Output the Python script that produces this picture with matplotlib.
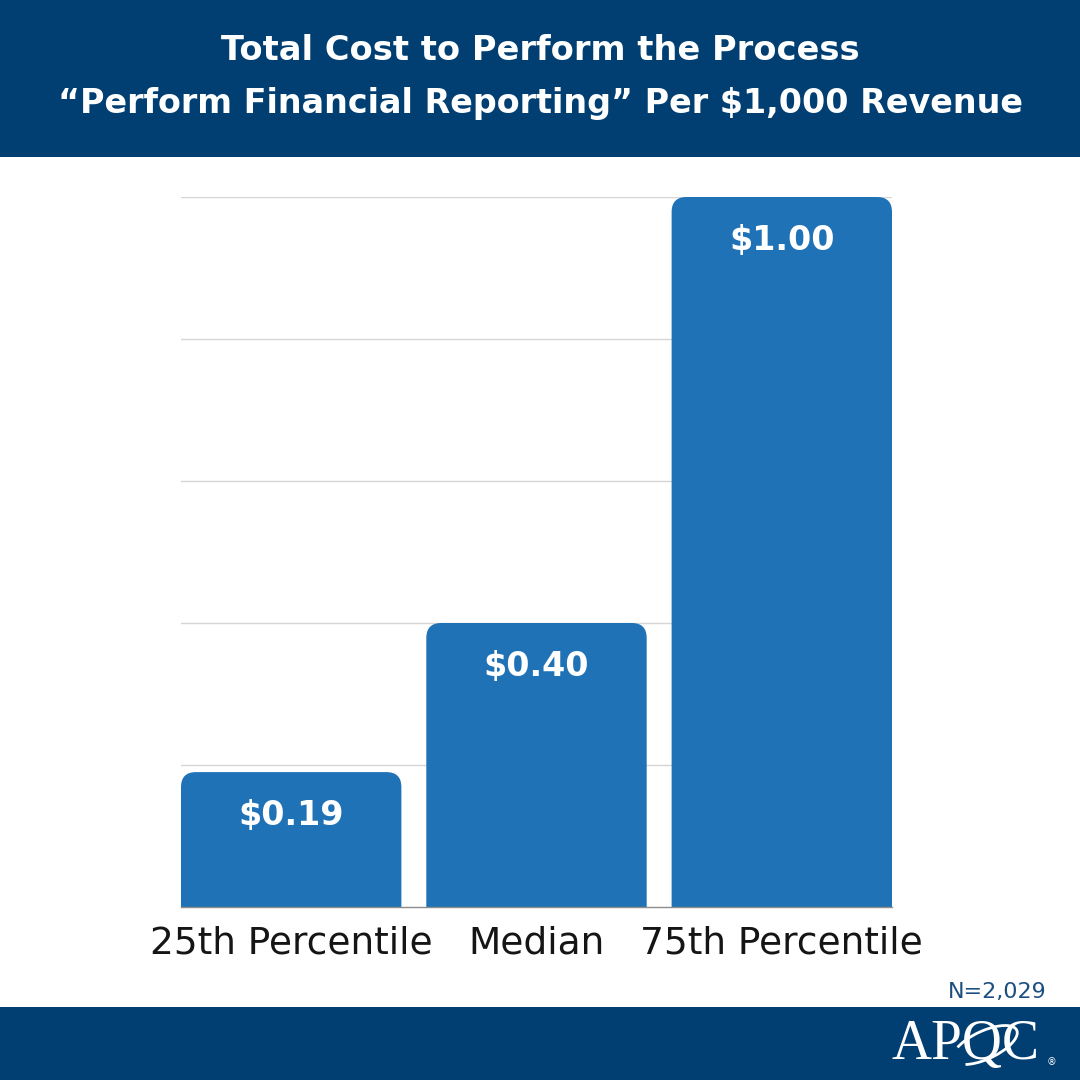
import matplotlib
matplotlib.use("Agg")
import matplotlib.pyplot as plt
from matplotlib.patches import FancyBboxPatch, Rectangle, Arc

categories = ["25th Percentile", "Median", "75th Percentile"]
values = [0.19, 0.40, 1.00]
value_labels = ["$0.19", "$0.40", "$1.00"]
title_lines = ["Total Cost to Perform the Process",
               "\u201cPerform Financial Reporting\u201d Per $1,000 Revenue"]
note = "N=2,029"

NAVY = "#013F73"
BAR = "#1F72B6"
FONT = "DejaVu Sans"

fig = plt.figure(figsize=(10.8, 10.8), dpi=100)
fig.patch.set_facecolor("white")

# header and footer bands
fig.patches.append(Rectangle((0, 1 - 157/1080), 1, 157/1080, transform=fig.transFigure,
                             facecolor=NAVY, edgecolor="none", zorder=0))
fig.patches.append(Rectangle((0, 0), 1, 73/1080, transform=fig.transFigure,
                             facecolor=NAVY, edgecolor="none", zorder=0))

fig.text(0.5, 1 - 50/1080, title_lines[0], ha="center", va="center", color="white",
         fontsize=24.2, fontweight="bold", family=FONT)
fig.text(0.5, 1 - 103/1080, title_lines[1], ha="center", va="center", color="white",
         fontsize=24, fontweight="bold", family=FONT)

ax = fig.add_axes([181/1080, 173/1080, 711/1080, 710/1080])
w = 221/246
x = list(range(len(categories)))
bars = ax.bar(x, values, width=w, color=BAR, zorder=2)
ax.set_xlim(-w/2, len(categories) - 1 + w/2)
ax.set_ylim(0, 1.0)
ax.set_yticks([0.2, 0.4, 0.6, 0.8, 1.0])
ax.yaxis.grid(True, color="#d6d6d6", linewidth=1.0, zorder=0)
ax.set_axisbelow(True)
for s in ["top", "right", "left"]:
    ax.spines[s].set_visible(False)
ax.spines["bottom"].set_color("#8c8c8c")
ax.spines["bottom"].set_linewidth(1.0)
ax.spines["bottom"].set_zorder(5)
ax.tick_params(axis="y", length=0, labelleft=False)
ax.tick_params(axis="x", length=0, pad=13)
ax.set_xticks(x)
ax.set_xticklabels(categories, fontsize=27, family=FONT, color="#151515")

# rounded tops
rx = 15/246
ry = 15/710
for b, lab in zip(bars, value_labels):
    b.set_visible(False)
    bx, bw, bh = b.get_x(), b.get_width(), b.get_height()
    p = FancyBboxPatch((bx, -0.05), bw, bh + 0.05,
                       boxstyle=f"round,pad=0,rounding_size={rx}",
                       mutation_aspect=ry/rx, facecolor=BAR, edgecolor="none", zorder=3)
    ax.add_patch(p)
    ax.annotate(lab, (bx + bw/2, bh), xytext=(0, -31), textcoords="offset points",
                ha="center", va="center", color="white", fontsize=24,
                fontweight="bold", family=FONT, zorder=4)

fig.text(1047/1080, 1 - 992/1080, note, ha="right", va="center", color="#1B4F80",
         fontsize=16, family=FONT)

# logo
fig.text(1040/1080, 1 - 1045/1080, "APQC", ha="right", va="center", color="white",
         fontsize=40, family="Liberation Serif")
fig.text(1052/1080, 1 - 1062/1080, "\u00ae", ha="center", va="center", color="white",
         fontsize=7, family="DejaVu Sans")
fig.patches.append(Arc((985/1080, 1 - 1045/1080), 70/1080, 28/1080, angle=25,
                       theta1=200, theta2=520, transform=fig.transFigure,
                       color="white", linewidth=2))

fig.savefig("out.png", dpi=100)
